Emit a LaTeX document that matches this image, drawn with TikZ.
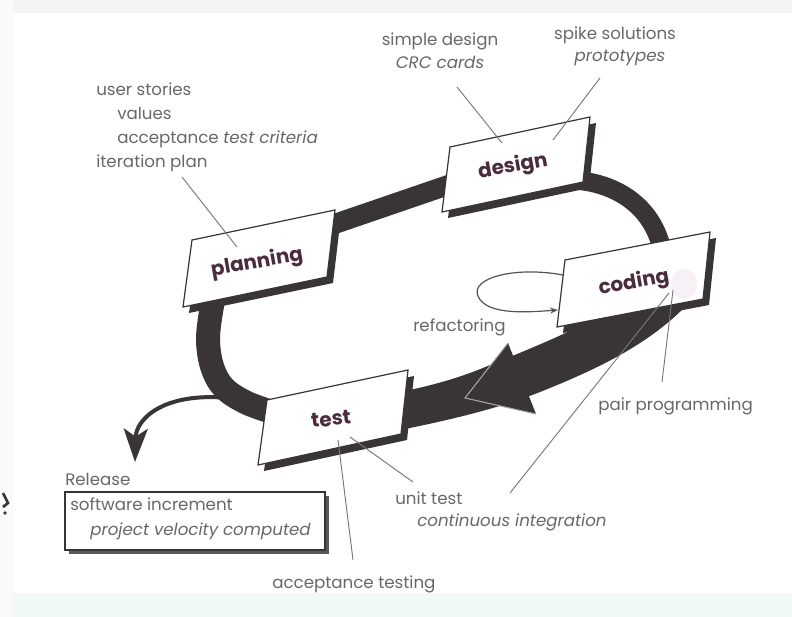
\documentclass[tikz,border=0pt]{standalone}
\usepackage{fontspec}
\setmainfont{Poppins}
\usetikzlibrary{arrows.meta}
\definecolor{bandc}{HTML}{393435}
\definecolor{txtc}{HTML}{686868}
\definecolor{lblc}{HTML}{4A2C3C}
\definecolor{leadc}{HTML}{787878}
\definecolor{topc}{HTML}{F4F4F4}
\definecolor{botc}{HTML}{F0F8F8}
\begin{document}
\begin{tikzpicture}[x=0.75pt,y=-0.75pt,
  lbl/.style={inner sep=0pt, text=txtc, font=\fontsize{12.5}{15}\selectfont},
  cardlbl/.style={inner sep=0pt, text=lblc, font=\fontsize{15}{18}\selectfont\bfseries, rotate=10},
  cardbox/.style={fill=white, draw=bandc, line width=0.9pt, line join=miter},
  cardshadow/.style={fill=bandc},
  band/.style={draw=bandc, line cap=butt},
  leader/.style={draw=leadc, line width=0.7pt}]
\useasboundingbox (0,0) rectangle (792,617);
\fill[white] (0,0) rectangle (792,617);
\fill[topc] (0,0) rectangle (792,13);
\fill[botc] (0,593) rectangle (792,617);
\fill[black!2] (0,0) rectangle (13,617);
% stray mark at the left edge
\draw[bandc, line width=2pt] (3,493) -- (8,503) -- (3,507);
\fill[bandc] (5,513) circle (1.8);

% release arrow
\draw[bandc, line width=3pt, -{Stealth[length=25pt,width=18pt,inset=6pt]}]
  (228,398) .. controls (165,392) and (136,418) .. (135,462);

% loop band
\draw[band, line width=15pt] (320,229) -- (460,181);
\draw[band, line width=14pt] (560,180) .. controls (612,178) and (655,205) .. (663,255);
\draw[band, line width=18pt] plot[smooth, tension=0.6] coordinates {(216,285) (208,340) (218,380) (245,402) (292,418)};
\fill[bandc] (640,292) .. controls (600,320) and (540,345) .. (490,365)
  .. controls (460,378) and (430,386) .. (400,392) -- (400,430)
  .. controls (450,420) and (500,408) .. (540,392)
  .. controls (600,368) and (660,340) .. (700,290) -- cycle;
\fill[bandc] (465,398) -- (508,343) -- (536,414) -- cycle;
\draw[black!35, line width=0.8pt, line join=miter] (508,343) -- (465,398) -- (536,414);

% cards
\fill[cardshadow, shift={(6,6)}] (192,240) -- (335,210) -- (327,277) -- (183,307) -- cycle;
\filldraw[cardbox] (192,240) -- (335,210) -- (327,277) -- (183,307) -- cycle;
\fill[cardshadow, shift={(6,6)}] (450,147) -- (590,117) -- (583,182) -- (442,212) -- cycle;
\filldraw[cardbox] (450,147) -- (590,117) -- (583,182) -- (442,212) -- cycle;
\fill[cardshadow, shift={(6,6)}] (565,260) -- (710,232) -- (703,299) -- (557,327) -- cycle;
\filldraw[cardbox] (565,260) -- (710,232) -- (703,299) -- (557,327) -- cycle;
\fill[violet, opacity=0.06] (684,284) ellipse (13 and 15);
\fill[cardshadow, shift={(6,6)}] (267,400) -- (408,370) -- (401,434) -- (258,465) -- cycle;
\filldraw[cardbox] (267,400) -- (408,370) -- (401,434) -- (258,465) -- cycle;

\node[cardlbl] (planning) at (257,263) {planning};
\node[cardlbl] (design) at (513,167) {design};
\node[cardlbl] (coding) at (634,283) {coding};
\node[cardlbl, rotate=-4] (test) at (331,419) {test};

% refactoring loop
\coordinate (rf1) at (563,275);
\coordinate (rf2) at (558,310);
\draw[bandc!85, line width=0.9pt, -{Stealth[length=6pt,width=4.5pt]}]
  (rf1) .. controls (515,266) and (470,278) .. (478,296)
  .. controls (486,316) and (530,312) .. (rf2);
\node[lbl, anchor=base west] (refac) at (413,331) {refactoring};

% planning texts
\node[lbl, anchor=base west] (us) at (96,95) {user stories};
\node[lbl, anchor=base west] (val) at (117,119) {values};
\node[lbl, anchor=base west] (atc) at (117,143) {acceptance \textit{test criteria}};
\node[lbl, anchor=base west] (ip) at (96,167) {iteration plan};
\coordinate (l1a) at (182,177);
\coordinate (l1b) at (237,247);
\draw[leader] (l1a) -- (l1b);

% design texts
\node[lbl, anchor=base] (sd) at (440,46) {simple design};
\node[lbl, anchor=base] (crc) at (440,69) {\textit{CRC cards}};
\node[lbl, anchor=base] (spk) at (615,40) {spike solutions};
\node[lbl, anchor=base] (proto) at (620,62) {\textit{prototypes}};
\coordinate (l2a) at (457,87);
\coordinate (l2b) at (502,143);
\coordinate (l3a) at (600,78);
\coordinate (l3b) at (553,140);
\draw[leader] (l2a) -- (l2b);
\draw[leader] (l3a) -- (l3b);

% coding texts
\node[lbl, anchor=base west] (pp) at (598,410) {pair programming};
\coordinate (l4a) at (662,382);
\coordinate (l4b) at (673,290);
\coordinate (l5a) at (510,493);
\coordinate (l5b) at (669,293);
\draw[leader] (l4a) -- (l4b);
\draw[leader] (l5a) -- (l5b);

% test texts
\node[lbl, anchor=base west] (ut) at (395,504) {unit test};
\node[lbl, anchor=base west] (ci) at (417,526) {\textit{continuous integration}};
\node[lbl, anchor=base west] (at) at (272,588) {acceptance testing};
\coordinate (l6a) at (413,482);
\coordinate (l6b) at (350,437);
\coordinate (l7a) at (353,560);
\coordinate (l7b) at (338,440);
\draw[leader] (l6a) -- (l6b);
\draw[leader] (l7a) -- (l7b);

% release
\node[lbl, anchor=base west] (rel) at (65,485) {Release};
\fill[black!65] (69,496) rectangle (329,554);
\node[draw=bandc, line width=0.8pt, fill=white, minimum width=195pt, minimum height=43.5pt, inner sep=0pt] (relbox) at (195,521) {};
\node[lbl, anchor=base west] (swi) at (70,510) {software increment};
\node[lbl, anchor=base west] (pvc) at (90,535) {\textit{project velocity computed}};
\end{tikzpicture}
\end{document}
